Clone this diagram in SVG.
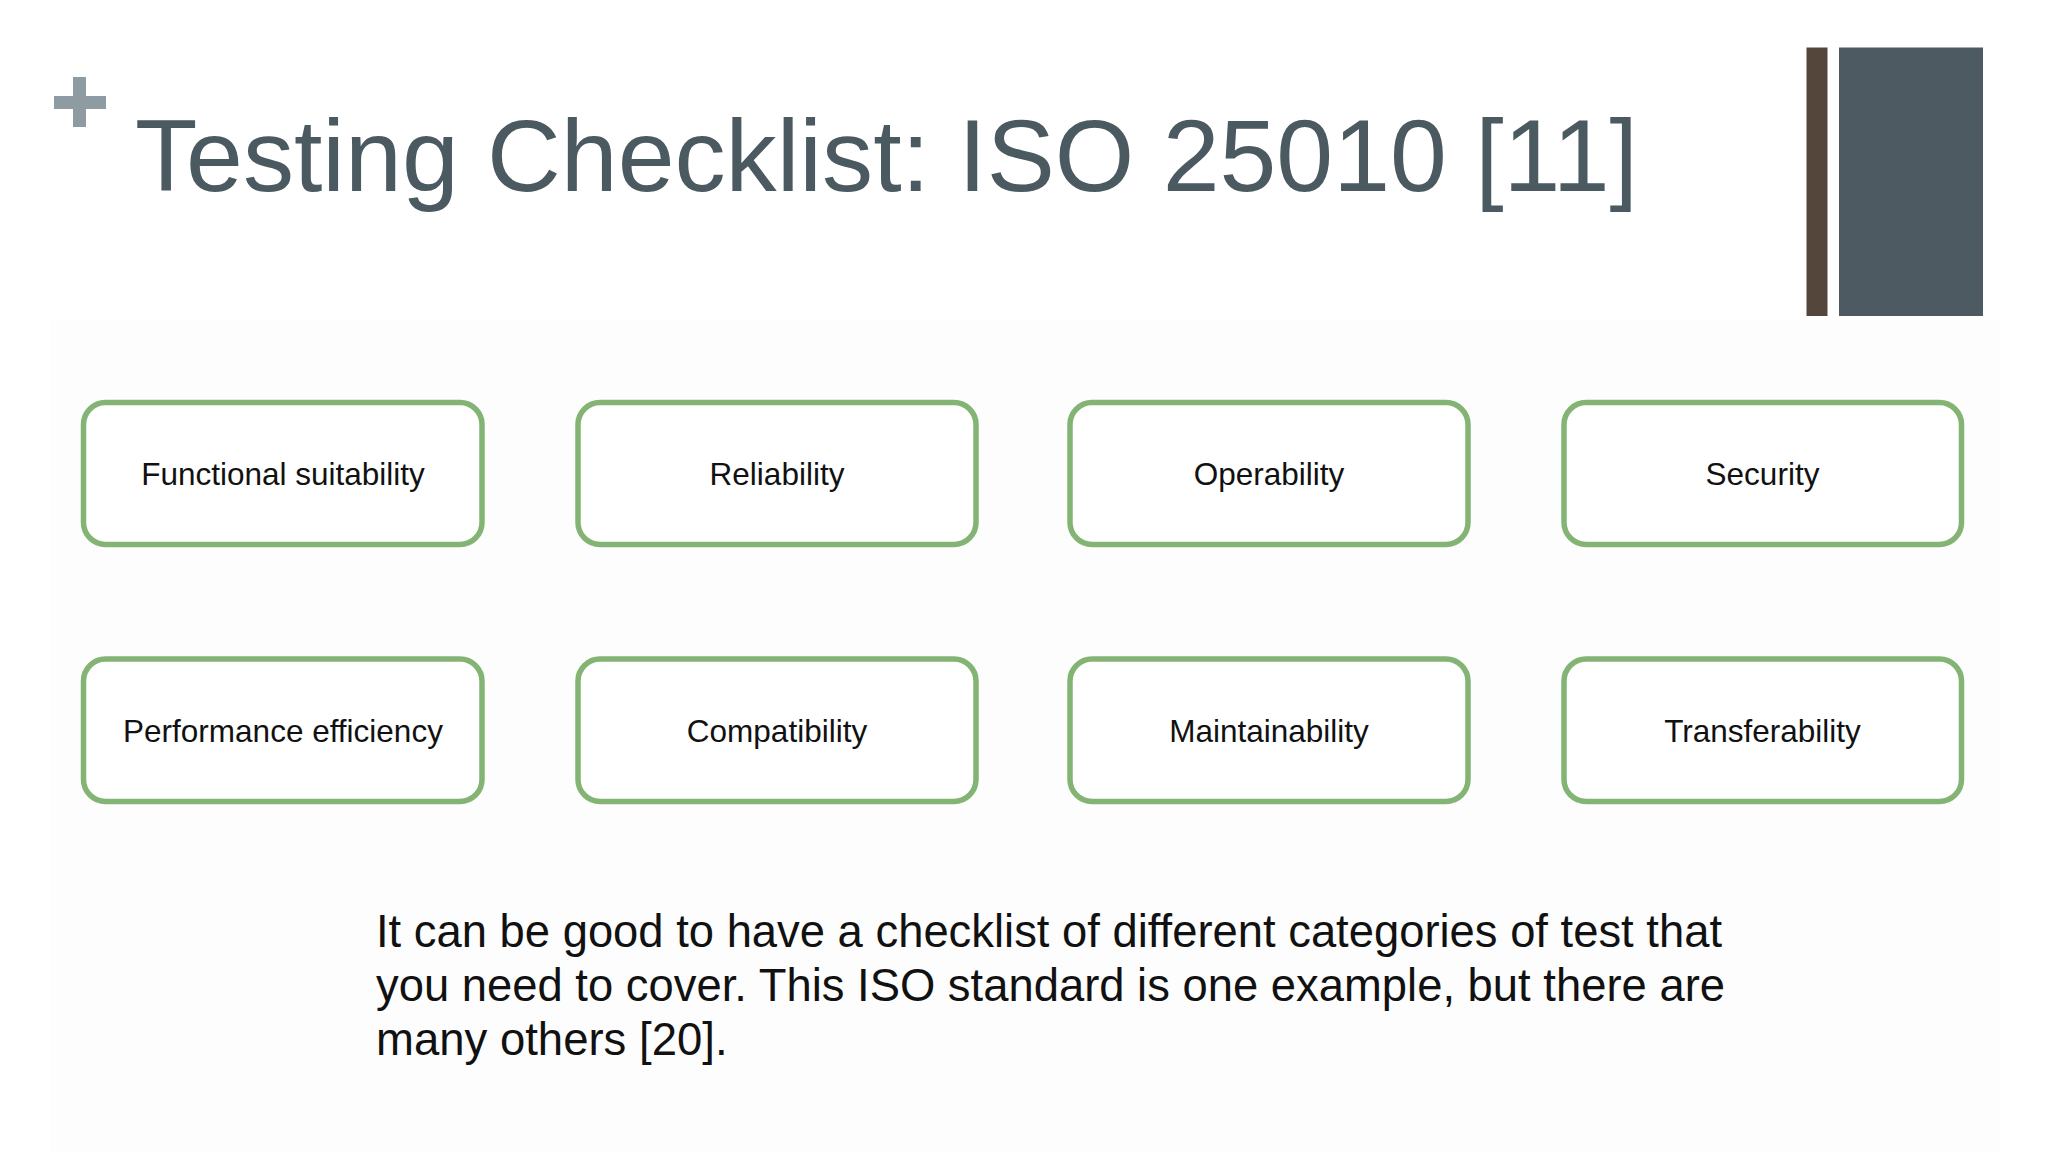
<svg xmlns="http://www.w3.org/2000/svg" width="2048" height="1152" viewBox="0 0 2048 1152">
  <style>
    .box { fill: #FFFFFF; stroke: #84B474; stroke-width: 5.5; }
    .lbl { font-family: "Liberation Sans", Arial, sans-serif; font-size: 31.5px; fill: #111111; text-anchor: middle; }
    .title { font-family: "Liberation Sans", Arial, sans-serif; font-size: 102px; fill: #4B5960; }
    .body { font-family: "Liberation Sans", Arial, sans-serif; font-size: 45.5px; fill: #111111; }
  </style>
  <rect x="0" y="0" width="2048" height="1152" fill="#FFFFFF"/>
  <rect x="50" y="320" width="1950" height="832" fill="#FDFDFE"/>

  <g id="plus">
    <rect x="73" y="77" width="13" height="50" fill="#8E9BA3"/>
    <rect x="54" y="96" width="52" height="13" fill="#8E9BA3"/>
  </g>

  <g id="bars">
    <rect x="1806.5" y="47.5" width="21" height="268.5" fill="#54463B"/>
    <rect x="1839" y="47.5" width="144" height="268.5" fill="#4D5A62"/>
  </g>

  <text id="title" class="title" x="135" y="191" textLength="1503" lengthAdjust="spacingAndGlyphs">Testing Checklist: ISO 25010 [11]</text>

  <g id="connectors"></g>

  <g id="node-functional-suitability">
    <rect class="box" x="83.5" y="402.5" width="398.5" height="142" rx="22"/>
    <text class="lbl" x="283" y="484.5">Functional suitability</text>
  </g>
  <g id="node-reliability">
    <rect class="box" x="578" y="402.5" width="398" height="142" rx="22"/>
    <text class="lbl" x="777" y="484.5">Reliability</text>
  </g>
  <g id="node-operability">
    <rect class="box" x="1070" y="402.5" width="398" height="142" rx="22"/>
    <text class="lbl" x="1269" y="484.5">Operability</text>
  </g>
  <g id="node-security">
    <rect class="box" x="1564" y="402.5" width="397.5" height="142" rx="22"/>
    <text class="lbl" x="1762.5" y="484.5">Security</text>
  </g>

  <g id="node-performance-efficiency">
    <rect class="box" x="83.5" y="659" width="398.5" height="142.5" rx="22"/>
    <text class="lbl" x="283" y="741.5">Performance efficiency</text>
  </g>
  <g id="node-compatibility">
    <rect class="box" x="578" y="659" width="398" height="142.5" rx="22"/>
    <text class="lbl" x="777" y="741.5">Compatibility</text>
  </g>
  <g id="node-maintainability">
    <rect class="box" x="1070" y="659" width="398" height="142.5" rx="22"/>
    <text class="lbl" x="1269" y="741.5">Maintainability</text>
  </g>
  <g id="node-transferability">
    <rect class="box" x="1564" y="659" width="397.5" height="142.5" rx="22"/>
    <text class="lbl" x="1762.5" y="741.5">Transferability</text>
  </g>

  <g id="note">
    <text class="body" x="376" y="947" textLength="1346" lengthAdjust="spacingAndGlyphs">It can be good to have a checklist of different categories of test that</text>
    <text class="body" x="376" y="1001" textLength="1349" lengthAdjust="spacingAndGlyphs">you need to cover. This ISO standard is one example, but there are</text>
    <text class="body" x="376" y="1055">many others [20].</text>
  </g>
</svg>
